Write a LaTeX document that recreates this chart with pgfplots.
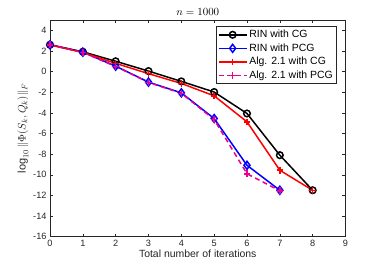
\documentclass[border=0pt]{standalone}
\usepackage{pgfplots}
\pgfplotsset{compat=1.18}
\usepackage{fontspec}
\setmainfont{Liberation Sans}
\definecolor{axgray}{rgb}{0.15,0.15,0.15}
\begin{document}
\begin{tikzpicture}[x=1bp,y=1bp]
\useasboundingbox (-50bp,-29.3bp) rectangle (332bp,236.7bp);
\begin{axis}[
  at={(0,0)}, anchor=south west,
  scale only axis, width=295.5bp, height=216.7bp,
  xmin=0, xmax=9, ymin=-16, ymax=5,
  xtick={0,...,9}, ytick={-16,-14,...,4},
  tick align=inside, tick pos=both,
  major tick length=3bp,
  axis line style={axgray, line width=0.5pt},
  every tick/.style={axgray, line width=0.5pt},
  tick label style={font=\fontsize{9.2}{11}\selectfont, text=axgray},
  /pgf/number format/assume math mode=true,
  xlabel={Total number of iterations},
  xlabel style={font=\fontsize{10.5}{12}\selectfont, text=axgray, yshift=4bp},
  ylabel={$\log_{10}\|\Phi(S_k,Q_k)\|_F$},
  ylabel style={font=\fontsize{11}{13}\selectfont, text=axgray, yshift=-2bp},
  title={$n=1000$},
  title style={font=\fontsize{10.5}{12}\selectfont, yshift=-5bp},
  legend style={at={(0.97,0.97)}, anchor=north east, font=\fontsize{10.5}{12}\selectfont,
     draw=axgray, line width=0.5pt, inner sep=1.5bp, row sep=0.5bp},
  legend cell align=left,
  legend image code/.code={\draw[mark repeat=2,mark phase=2] plot coordinates {(0bp,0bp)(14bp,0bp)(28bp,0bp)};},
]
\addplot[black, line width=1.5pt, mark=o, mark size=3.3bp, mark options={solid}] coordinates {
(0,2.6) (1,1.92) (2,1.0) (3,0.05) (4,-0.95) (5,-1.98) (6,-4.06) (7,-8.1) (8,-11.5)};
\addlegendentry{RIN with CG}
\addplot[blue, line width=1.5pt, mark=diamond, mark size=4bp, mark options={solid}] coordinates {
(0,2.6) (1,1.88) (2,0.53) (3,-1.02) (4,-2.06) (5,-4.55) (6,-9.08) (7,-11.5)};
\addlegendentry{RIN with PCG}
\addplot[red, line width=1.5pt, mark=+, mark size=3.3bp, mark options={solid}] coordinates {
(0,2.6) (1,1.85) (2,0.8) (3,-0.2) (4,-1.15) (5,-2.35) (6,-4.87) (7,-9.56) (8,-11.5)};
\addlegendentry{Alg. 2.1 with CG}
\addplot[magenta, line width=1.5pt, dash pattern=on 5bp off 3.5bp, mark=+, mark size=3.3bp, mark options={solid}] coordinates {
(0,2.6) (1,1.85) (2,0.5) (3,-1.05) (4,-2.1) (5,-4.65) (6,-9.9) (7,-11.55)};
\addlegendentry{Alg. 2.1 with PCG}
\end{axis}
\end{tikzpicture}
\end{document}
